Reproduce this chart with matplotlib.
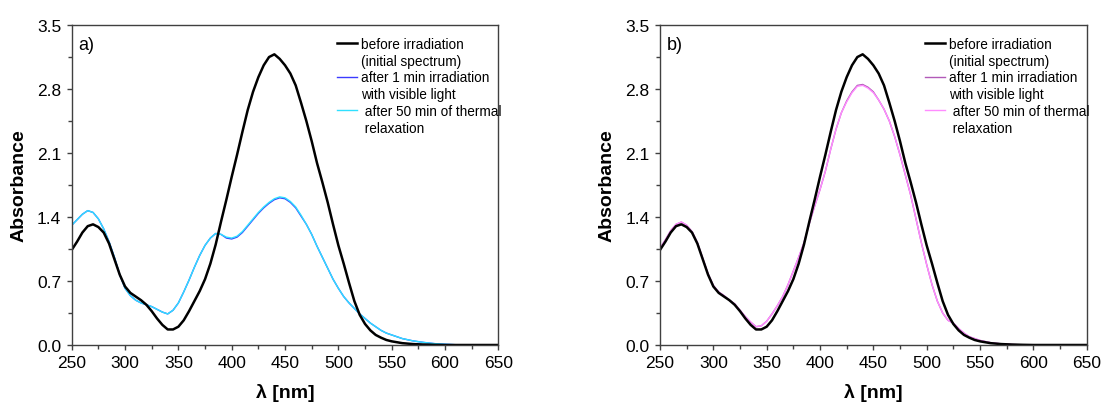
import numpy as np
import matplotlib
matplotlib.use("Agg")
import matplotlib.pyplot as plt
from matplotlib.lines import Line2D
from matplotlib.ticker import MultipleLocator, FormatStrFormatter

plt.rcParams['font.family'] = ['Liberation Sans', 'DejaVu Sans']

# wavelengths [nm]
wl = [250, 255, 260, 265, 270, 275, 280, 285, 290, 295, 300, 305, 310, 315,
      320, 325, 330, 335, 340, 345, 350, 355, 360, 365, 370, 375, 380, 385,
      390, 395, 400, 405, 410, 415, 420, 425, 430, 435, 440, 445, 450, 455,
      460, 465, 470, 475, 480, 485, 490, 495, 500, 505, 510, 515, 520, 525,
      530, 535, 540, 545, 550, 560, 570, 580, 590, 600, 610, 620, 650]

# before irradiation (initial spectrum), same in both panels
before = [1.04, 1.13, 1.23, 1.30, 1.32, 1.29, 1.23, 1.11, 0.94, 0.77, 0.64,
          0.57, 0.53, 0.49, 0.44, 0.37, 0.29, 0.22, 0.17, 0.17, 0.20, 0.27,
          0.37, 0.48, 0.59, 0.72, 0.89, 1.10, 1.35, 1.59, 1.84, 2.08, 2.33,
          2.57, 2.77, 2.93, 3.06, 3.15, 3.18, 3.13, 3.06, 2.97, 2.84, 2.65,
          2.45, 2.23, 1.99, 1.78, 1.56, 1.32, 1.09, 0.89, 0.68, 0.48, 0.33,
          0.23, 0.16, 0.11, 0.08, 0.055, 0.04, 0.02, 0.01, 0.005, 0.002, 0.0,
          0.0, 0.0, 0.0]

# panel a)
a_irr = [1.31, 1.37, 1.43, 1.47, 1.45, 1.38, 1.27, 1.13, 0.96, 0.77, 0.62,
         0.54, 0.49, 0.46, 0.44, 0.42, 0.39, 0.36, 0.34, 0.38, 0.46, 0.58,
         0.71, 0.85, 0.98, 1.09, 1.17, 1.22, 1.21, 1.17, 1.16, 1.18, 1.23,
         1.30, 1.37, 1.44, 1.50, 1.55, 1.59, 1.61, 1.60, 1.56, 1.50, 1.41,
         1.32, 1.21, 1.08, 0.96, 0.84, 0.72, 0.62, 0.53, 0.46, 0.40, 0.34,
         0.29, 0.24, 0.20, 0.16, 0.13, 0.11, 0.07, 0.045, 0.028, 0.015,
         0.008, 0.003, 0.0, 0.0]
a_relax = [1.31, 1.37, 1.43, 1.47, 1.45, 1.38, 1.27, 1.13, 0.96, 0.77, 0.62,
           0.54, 0.49, 0.46, 0.44, 0.42, 0.39, 0.36, 0.34, 0.38, 0.46, 0.58,
           0.71, 0.85, 0.98, 1.09, 1.17, 1.22, 1.21, 1.18, 1.17, 1.19, 1.24,
           1.31, 1.38, 1.45, 1.51, 1.56, 1.60, 1.62, 1.61, 1.57, 1.51, 1.42,
           1.32, 1.21, 1.08, 0.96, 0.84, 0.72, 0.62, 0.53, 0.46, 0.40, 0.34,
           0.29, 0.24, 0.20, 0.16, 0.13, 0.11, 0.07, 0.045, 0.028, 0.015,
           0.008, 0.003, 0.0, 0.0]

# panel b)
b_irr = [1.06, 1.15, 1.25, 1.32, 1.345, 1.31, 1.24, 1.12, 0.95, 0.78, 0.65,
         0.58, 0.54, 0.49, 0.45, 0.38, 0.31, 0.25, 0.20, 0.21, 0.26, 0.34,
         0.43, 0.53, 0.66, 0.81, 0.96, 1.12, 1.33, 1.52, 1.70, 1.90, 2.14,
         2.36, 2.54, 2.67, 2.77, 2.84, 2.85, 2.82, 2.77, 2.68, 2.58, 2.45,
         2.28, 2.08, 1.86, 1.64, 1.38, 1.12, 0.88, 0.66, 0.48, 0.35, 0.27,
         0.24, 0.18, 0.13, 0.09, 0.07, 0.05, 0.025, 0.012, 0.005, 0.002, 0.0,
         0.0, 0.0, 0.0]
b_relax = [1.06, 1.15, 1.25, 1.32, 1.345, 1.31, 1.24, 1.12, 0.95, 0.78, 0.65,
           0.58, 0.54, 0.49, 0.45, 0.38, 0.31, 0.25, 0.20, 0.21, 0.26, 0.34,
           0.43, 0.53, 0.66, 0.81, 0.96, 1.12, 1.33, 1.52, 1.70, 1.90, 2.14,
           2.36, 2.54, 2.66, 2.76, 2.83, 2.84, 2.81, 2.76, 2.68, 2.58, 2.45,
           2.28, 2.08, 1.86, 1.64, 1.38, 1.12, 0.88, 0.66, 0.48, 0.35, 0.27,
           0.24, 0.18, 0.13, 0.09, 0.07, 0.05, 0.025, 0.012, 0.005, 0.002, 0.0,
           0.0, 0.0, 0.0]

labels = ["before irradiation", "(initial spectrum)",
          "after 1 min irradiation", "with visible light",
          " after 50 min of thermal", " relaxation"]

panels = [
    ("a)", a_irr, a_relax, "#3b3bff", "#2fe0ff"),
    ("b)", b_irr, b_relax, "#b25ab8", "#ff8cff"),
]

fig = plt.figure(figsize=(11.05, 4.06), dpi=100)
lefts = [0.0649, 0.5973]

for left, (tag, irr, relax, c_irr, c_relax) in zip(lefts, panels):
    ax = fig.add_axes([left, 0.1478, 0.3861, 0.788])
    ax.plot(wl, irr, color=c_irr, lw=1.0)
    ax.plot(wl, relax, color=c_relax, lw=1.0)
    ax.plot(wl, before, color="black", lw=1.8)

    ax.set_xlim(250, 650)
    ax.set_ylim(0, 3.5)
    ax.xaxis.set_major_locator(MultipleLocator(50))
    ax.xaxis.set_minor_locator(MultipleLocator(25))
    ax.yaxis.set_major_locator(MultipleLocator(0.7))
    ax.yaxis.set_minor_locator(MultipleLocator(0.35))
    ax.yaxis.set_major_formatter(FormatStrFormatter("%.1f"))
    ax.tick_params(which="both", direction="out", labelsize=12.5,
                   color="#404040", width=1.0, pad=4)
    ax.tick_params(which="major", length=3.5)
    ax.tick_params(which="minor", length=3.0)
    for sp in ax.spines.values():
        sp.set_color("#404040")
        sp.set_linewidth(1.0)

    ax.set_xlabel("λ [nm]", fontsize=14, fontweight="bold", labelpad=9)
    ax.set_ylabel("Absorbance", fontsize=14, fontweight="bold", labelpad=7)
    ax.text(0.015, 0.94, tag, transform=ax.transAxes, fontsize=13,
            va="center", ha="left")

    blank = Line2D([], [], color="none")
    handles = [Line2D([], [], color="black", lw=1.8), blank,
               Line2D([], [], color=c_irr, lw=1.0), blank,
               Line2D([], [], color=c_relax, lw=1.0), blank]
    ax.legend(handles, labels, loc="upper left", bbox_to_anchor=(0.622, 0.963),
              frameon=False, fontsize=9.8, handlelength=1.45,
              handletextpad=0.3, labelspacing=0.2, borderpad=0,
              borderaxespad=0)

fig.savefig("out.png", dpi=100)
